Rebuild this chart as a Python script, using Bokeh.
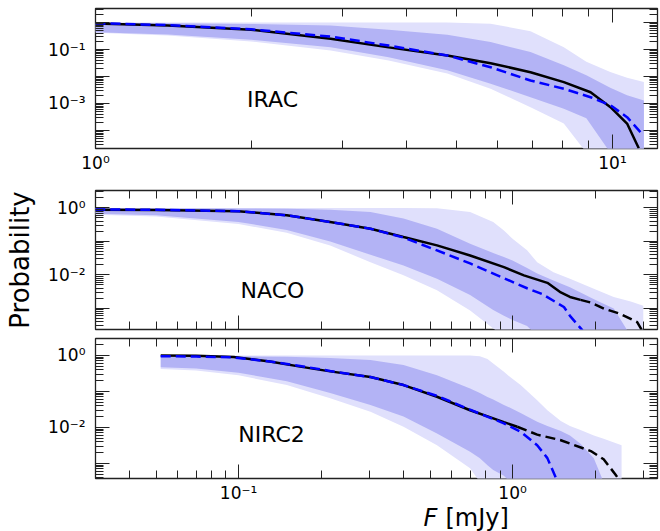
from bokeh.plotting import figure
from bokeh.models import Range1d, LogAxis, FixedTicker, CustomJSTickFormatter
from bokeh.layouts import column
from bokeh.embed import file_html
from bokeh.resources import INLINE
from bokeh.core.properties import value

FONT = "DejaVu Sans"
LIGHT = "#e0e0fc"
DARK = "#b3b3f5"

# ---------------- IRAC ----------------
irac_band_F = [1.0, 1.38, 2.0, 2.85, 3.69, 4.79, 5.81, 6.94, 8.05, 8.9, 9.9, 10.67, 11.5]
irac_light_hi = [1.0, 1.0, 1.0, 1.0, 1.0, 1.0, 0.9, 0.48, 0.12, 0.035, 0.0145, 0.009, 0.0062]
irac_dark_hi = [0.98, 0.95, 0.88, 0.77, 0.54, 0.35, 0.19, 0.08, 0.026, 0.011, 0.0038, 0.002, 0.0013]
irac_dark_lo = [0.44, 0.36, 0.23, 0.12, 0.052, 0.017, 0.0054, 0.0017, 6.3e-4, 2.8e-4, 1.5e-5, 1e-6, 1e-6]
irac_light_lo = [0.42, 0.33, 0.2, 0.092, 0.039, 0.013, 0.0035, 7.3e-4, 1.8e-4, 1.5e-5, 1e-6, 1e-6, 1e-6]
irac_obs_F = [1.0, 1.38, 2.0, 2.85, 3.69, 4.79, 5.81, 6.94, 8.05, 9.07, 9.91, 10.67, 11.24]
irac_obs_P = [0.93, 0.77, 0.54, 0.25, 0.12, 0.06, 0.031, 0.0144, 0.0062, 0.0026, 7.3e-4, 1.8e-4, 2.2e-5]
irac_mod_F = [1.0, 1.38, 2.0, 2.85, 3.69, 4.79, 5.81, 6.94, 8.05, 9.07, 9.91, 10.67, 11.4]
irac_mod_P = [0.95, 0.80, 0.56, 0.30, 0.14, 0.06, 0.022, 0.0071, 0.0035, 0.0017, 8.5e-4, 3.1e-4, 7.5e-5]

# ---------------- NACO ----------------
naco_band_F = [0.03, 0.05, 0.1, 0.15, 0.216, 0.303, 0.40, 0.53, 0.70, 0.85, 0.93, 1.0, 1.13,
               1.23, 1.41, 1.62, 2.0, 2.34, 2.7, 3.0]
naco_light_hi = [1.0, 1.0, 1.0, 1.0, 1.0, 1.0, 1.0, 0.97, 0.75, 0.38, 0.21, 0.12, 0.054,
                 0.024, 0.012, 0.0077, 0.0037, 0.0022, 0.0016, 0.0012]
naco_dark_hi = [0.97, 0.97, 0.96, 0.94, 0.88, 0.75, 0.48, 0.24, 0.085, 0.045, 0.034, 0.027, 0.016,
                0.011, 0.0068, 0.0043, 0.0018, 0.001, 1.5e-4, 1e-5]
naco_dark_lo = [0.67, 0.6, 0.38, 0.22, 0.1, 0.04, 0.019, 0.0077, 0.0025, 9e-4, 6e-4, 4.5e-4, 3e-4,
                1.5e-4, 1e-5, 1e-5, 1e-5, 1e-5, 1e-5, 1e-5]
naco_light_lo = [0.62, 0.55, 0.33, 0.18, 0.075, 0.024, 0.0097, 0.0035, 8.7e-4, 2.5e-4, 1.5e-4, 1e-5, 1e-5,
                 1e-5, 1e-5, 1e-5, 1e-5, 1e-5, 1e-5, 1e-5]
naco_obs_F = [0.03, 0.05, 0.1, 0.15, 0.216, 0.303, 0.40, 0.53, 0.70, 0.93, 1.10, 1.34, 1.5, 1.62, 1.77]
naco_obs_P = [0.88, 0.87, 0.8, 0.6, 0.38, 0.24, 0.135, 0.076, 0.038, 0.017, 0.0097, 0.0058, 0.003, 0.0022, 0.0018]
naco_tail_F = [1.77, 1.93, 2.16, 2.47, 2.85, 2.97]
naco_tail_P = [0.0018, 0.0015, 9.8e-4, 6.9e-4, 3.9e-4, 2.2e-4]
naco_mod_F = [0.03, 0.05, 0.1, 0.15, 0.216, 0.303, 0.40, 0.53, 0.70, 0.93, 1.13, 1.28, 1.54, 1.62, 1.8]
naco_mod_P = [0.9, 0.88, 0.8, 0.6, 0.38, 0.24, 0.13, 0.054, 0.022, 0.008, 0.004, 0.0027, 0.0011, 6e-4, 2.2e-4]

# ---------------- NIRC2 ----------------
nirc_band_F = [0.052, 0.07, 0.1, 0.15, 0.216, 0.303, 0.40, 0.53, 0.70, 0.76, 0.81, 0.85, 0.93, 0.98,
               1.07, 1.23, 1.34, 1.5, 1.62, 1.77, 1.98, 2.15, 2.5]
nirc_light_hi = [1.0, 1.0, 1.0, 1.0, 1.0, 1.0, 1.0, 1.0, 1.0, 0.95, 0.8, 0.6, 0.35, 0.25,
                 0.15, 0.057, 0.03, 0.015, 0.011, 0.0085, 0.006, 0.0048, 0.0032]
nirc_dark_hi = [0.97, 0.96, 0.95, 0.92, 0.85, 0.74, 0.54, 0.28, 0.12, 0.09, 0.07, 0.06, 0.042, 0.035,
                0.025, 0.0144, 0.011, 0.008, 0.006, 0.0035, 0.0014, 3e-4, 1e-5]
nirc_dark_lo = [0.47, 0.43, 0.33, 0.19, 0.09, 0.042, 0.02, 0.0068, 0.0021, 0.0014, 8.9e-4, 6.5e-4, 4.5e-4, 3e-4,
                1e-5, 1e-5, 1e-5, 1e-5, 1e-5, 1e-5, 1e-5, 1e-5, 1e-5]
nirc_light_lo = [0.42, 0.38, 0.28, 0.15, 0.065, 0.027, 0.0104, 0.0032, 7.3e-4, 3e-4, 1e-5, 1e-5, 1e-5, 1e-5,
                 1e-5, 1e-5, 1e-5, 1e-5, 1e-5, 1e-5, 1e-5, 1e-5, 1e-5]
nirc_obs_F = [0.052, 0.07, 0.096, 0.13, 0.17, 0.216, 0.303, 0.40, 0.53, 0.70, 0.93, 1.04]
nirc_obs_P = [1.0, 0.98, 0.9, 0.68, 0.48, 0.36, 0.25, 0.15, 0.071, 0.03, 0.014, 0.0104]
nirc_tail_F = [1.04, 1.23, 1.5, 1.93, 2.15, 2.37, 2.45]
nirc_tail_P = [0.0104, 0.0063, 0.0044, 0.0022, 0.0013, 5e-4, 3.5e-4]
nirc_mod_F = [0.052, 0.07, 0.096, 0.13, 0.17, 0.216, 0.303, 0.40, 0.53, 0.70, 0.93, 1.07, 1.23, 1.34, 1.45]
nirc_mod_P = [0.95, 0.93, 0.88, 0.68, 0.5, 0.37, 0.25, 0.15, 0.075, 0.031, 0.013, 0.0076, 0.0032, 0.0014, 3.5e-4]


def fmt(show):
    return CustomJSTickFormatter(args=dict(show=show), code="""
const e = Math.round(Math.log10(tick));
if (!show.includes(e)) { return ""; }
const sup = {"-": "\u207b", "0": "\u2070", "1": "\u00b9", "2": "\u00b2", "3": "\u00b3",
             "4": "\u2074", "5": "\u2075", "6": "\u2076", "7": "\u2077", "8": "\u2078", "9": "\u2079"};
let s = "10";
for (const c of String(e)) { s += sup[c]; }
return s;
""")


def ticker(lo, hi):
    majors = [10.0 ** e for e in range(lo, hi + 1)]
    minors = [k * 10.0 ** e for e in range(lo, hi + 1) for k in range(2, 10)]
    return FixedTicker(ticks=majors, minor_ticks=minors)


def style(ax, tk, show, size="17px", standoff=6):
    ax.ticker = tk
    ax.formatter = fmt(show)
    ax.major_tick_in = 14
    ax.major_tick_out = 0
    ax.minor_tick_in = 8
    ax.minor_tick_out = 0
    ax.axis_line_color = None
    ax.major_tick_line_color = "#222222"
    ax.minor_tick_line_color = "#222222"
    ax.major_tick_line_width = 1
    ax.minor_tick_line_width = 1
    ax.major_label_text_font = FONT
    ax.major_label_text_font_size = size
    ax.major_label_text_color = "black"
    ax.major_label_standoff = standoff


def make(xr, yr, fh, bt, bb, xt, yt, xshow, yshow):
    p = figure(x_axis_type="log", y_axis_type="log",
               x_range=Range1d(*xr), y_range=Range1d(*yr),
               frame_width=562, frame_height=fh,
               min_border_left=95, min_border_right=3,
               min_border_top=bt, min_border_bottom=bb,
               output_backend="svg", toolbar_location=None)
    p.grid.visible = False
    p.outline_line_color = "#222222"
    p.outline_line_width = 1.3
    p.background_fill_color = "white"
    p.border_fill_color = "white"
    style(p.xaxis[0], ticker(*xt), xshow, standoff=4)
    style(p.yaxis[0], ticker(*yt), yshow, standoff=10)
    top = LogAxis()
    style(top, ticker(*xt), [], size="1px", standoff=0)
    p.add_layout(top, "above")
    right = LogAxis()
    style(right, ticker(*yt), [], size="1px", standoff=0)
    p.add_layout(right, "right")
    return p


def draw(p, bF, llo, lhi, dlo, dhi, oF, oP, mF, mP, tF=None, tP=None):
    p.varea(x=bF, y1=llo, y2=lhi, fill_color=LIGHT)
    p.varea(x=bF, y1=dlo, y2=dhi, fill_color=DARK)
    p.line(oF, oP, line_color="black", line_width=2.5)
    if tF is not None:
        p.line(tF, tP, line_color="black", line_width=2.5, line_dash="10 5")
    p.line(mF, mP, line_color="#0000ff", line_width=2.5, line_dash="10 5")


def tag(p, x, y, t):
    p.text(x=[x], y=[y], text=[t], text_font=value(FONT), text_font_size="22px",
           text_align="center", text_baseline="middle", text_color="black")


p1 = make((1.0, 10 ** 1.087), (10 ** -4.67, 10 ** 0.52), 140, 8, 35, (0, 2), (-6, 1), [0, 1], [-1, -3])
draw(p1, irac_band_F, irac_light_lo, irac_light_hi, irac_dark_lo, irac_dark_hi,
     irac_obs_F, irac_obs_P, irac_mod_F, irac_mod_P)
tag(p1, 2.2, 1.4e-3, "IRAC")

p2 = make((10 ** -1.522, 10 ** 0.529), (10 ** -3.63, 10 ** 0.52), 139, 7, 4, (-2, 1), (-5, 1), [], [0, -2])
draw(p2, naco_band_F, naco_light_lo, naco_light_hi, naco_dark_lo, naco_dark_hi,
     naco_obs_F, naco_obs_P, naco_mod_F, naco_mod_P, naco_tail_F, naco_tail_P)
tag(p2, 0.133, 3.4e-3, "NACO")
p2.yaxis[0].axis_label = "Probability"
p2.yaxis[0].axis_label_text_font = FONT
p2.yaxis[0].axis_label_text_font_size = "26px"
p2.yaxis[0].axis_label_text_font_style = "normal"
p2.yaxis[0].axis_label_text_color = "black"
p2.yaxis[0].axis_label_standoff = 10

p3 = make((10 ** -1.522, 10 ** 0.529), (10 ** -3.42, 10 ** 0.47), 140, 5, 26, (-2, 1), (-5, 1), [-1, 0], [0, -2])
draw(p3, nirc_band_F, nirc_light_lo, nirc_light_hi, nirc_dark_lo, nirc_dark_hi,
     nirc_obs_F, nirc_obs_P, nirc_mod_F, nirc_mod_P, nirc_tail_F, nirc_tail_P)
tag(p3, 0.132, 6.4e-3, "NIRC2")

# x-axis title strip (italic F + unit)
p4 = figure(x_range=Range1d(0, 660), y_range=Range1d(0, 27), frame_width=660, frame_height=27,
            min_border=0, output_backend="svg", toolbar_location=None)
p4.axis.visible = False
p4.grid.visible = False
p4.outline_line_color = None
p4.background_fill_color = "white"
p4.border_fill_color = "white"
p4.text(x=[328], y=[15], text=["F"], text_font=value(FONT), text_font_size="24px",
        text_font_style="italic", text_align="left", text_baseline="middle", text_color="black")
p4.text(x=[350], y=[15], text=["[mJy]"], text_font=value(FONT), text_font_size="24px",
        text_align="left", text_baseline="middle", text_color="black")

layout = column(p1, p2, p3, p4, spacing=0)
open("out.html", "w").write(file_html(layout, INLINE))
